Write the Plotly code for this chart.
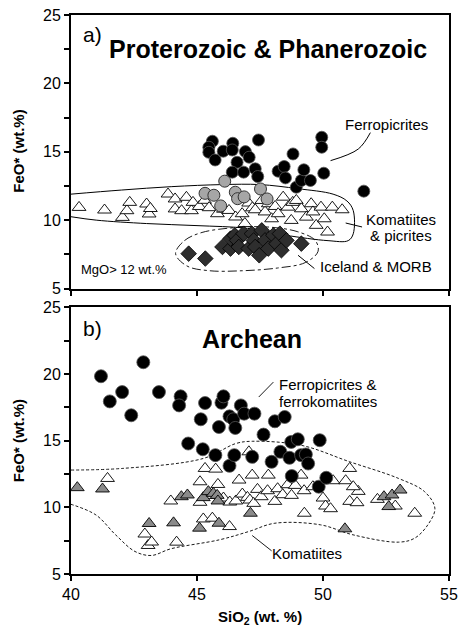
import plotly.graph_objects as go

# ---------------- Panel a: Proterozoic & Phanerozoic ----------------
a_ferro_x = [45.61, 45.47, 45.47, 45.72, 46.04, 46.42, 46.40, 46.59, 46.40, 46.85, 46.92, 47.07,
             47.31, 47.41, 47.44, 48.22, 48.46, 48.51, 48.81, 48.94, 49.14, 49.24, 49.50, 49.95,
             49.95, 50.03, 51.62]
a_ferro_y = [15.77, 15.33, 14.96, 14.40, 15.04, 15.62, 15.13, 14.23, 13.51, 13.51, 15.01, 14.60,
             13.75, 13.19, 15.86, 13.58, 13.92, 13.09, 14.84, 12.41, 12.90, 13.68, 12.90, 16.06,
             15.33, 13.43, 12.12]

a_gray_x = [46.10, 45.32, 45.67, 45.94, 46.52, 46.61, 46.87, 47.52, 47.78]
a_gray_y = [12.85, 11.96, 11.82, 11.04, 12.04, 11.57, 11.70, 12.28, 11.55]

a_kom_x = [40.32, 41.33, 42.04, 42.22, 42.33, 43.00, 43.10, 43.15, 43.85, 44.13, 44.13, 44.39,
           44.58, 44.78, 44.84, 45.09, 45.30, 45.48, 45.81, 46.05, 46.27, 46.53, 46.79, 46.90,
           47.05, 47.20, 47.31, 47.57, 47.70, 47.83, 47.96, 48.10, 48.22, 48.42, 48.61, 48.74,
           48.80, 48.94, 49.14, 49.34, 49.53, 49.60, 49.73, 49.92, 50.05, 50.18, 50.37, 50.76]
a_kom_y = [10.93, 10.74, 10.20, 10.69, 11.30, 11.18, 10.45, 10.85, 11.91, 11.55, 10.82, 10.69,
           11.67, 10.69, 11.30, 11.00, 11.45, 10.91, 10.47, 10.80, 10.71, 10.23, 10.47, 9.75,
           11.25, 10.90, 10.76, 11.44, 10.60, 11.20, 10.10, 11.00, 10.47, 11.68, 10.95, 9.98,
           11.30, 11.44, 10.83, 10.22, 11.20, 10.60, 9.62, 10.95, 10.10, 9.13, 10.95, 10.76]

a_morb_x = [44.67, 45.33, 46.01, 46.33, 46.33, 46.50, 46.59, 46.66, 46.85, 47.05, 47.18, 47.25,
            47.31, 47.47, 47.57, 47.70, 47.83, 48.03, 48.16, 48.29, 48.35, 48.55, 49.14]
a_morb_y = [7.55, 7.19, 8.04, 7.92, 8.65, 8.89, 8.52, 8.04, 9.01, 7.92, 9.01, 8.52,
            8.04, 7.43, 9.25, 8.52, 7.92, 8.89, 8.28, 9.01, 7.80, 8.52, 8.28]

# field outlines, panel a
a_kom_field_x = [40.0, 42.0, 44.0, 46.0, 47.5, 49.0, 50.4, 50.95, 51.2, 51.2, 51.0, 50.2, 48.5,
                 47.0, 45.0, 43.0, 41.0, 40.0]
a_kom_field_y = [11.9, 12.2, 12.45, 12.6, 12.6, 12.3, 11.9, 11.4, 10.7, 9.0, 8.5, 8.5, 8.9,
                 9.4, 9.6, 9.75, 10.0, 10.25]
a_morb_field_x = [44.15, 44.5, 45.2, 46.5, 47.8, 49.0, 49.7, 49.8, 49.3, 48.2, 46.8, 45.5, 44.6, 44.15]
a_morb_field_y = [7.55, 8.5, 9.1, 9.45, 9.5, 9.15, 8.5, 7.7, 6.9, 6.5, 6.3, 6.3, 6.65, 7.55]

# ---------------- Panel b: Archean ----------------
b_ferro_x = [41.19, 41.54, 42.03, 42.39, 42.87, 43.49, 44.35, 44.29, 44.65, 45.15, 45.32, 45.23,
             45.73, 45.87, 45.97, 46.05, 46.29, 46.29, 46.48, 46.44, 46.52, 46.74, 46.87, 47.19,
             47.28, 47.64, 47.96, 48.09, 48.48, 48.31, 48.67, 48.74, 49.00, 48.76, 49.13, 49.32,
             49.41, 49.87, 49.83, 50.13]
b_ferro_y = [19.84, 17.95, 18.65, 16.91, 20.89, 18.65, 18.33, 17.65, 14.79, 16.61, 17.83, 14.36,
             13.92, 16.03, 17.85, 18.33, 16.83, 13.12, 13.92, 16.61, 15.96, 17.65, 17.03, 13.79,
             17.03, 15.46, 13.42, 16.46, 16.78, 14.17, 13.72, 14.91, 15.11, 12.35, 13.92, 13.97,
             13.29, 15.04, 11.55, 12.22]

b_kom_x = [41.45, 42.93, 43.06, 43.20, 43.96, 44.19, 45.12, 45.12, 45.25, 45.32, 45.61, 45.55,
           45.74, 45.83, 45.95, 46.05, 46.29, 46.30, 46.54, 46.67, 46.80, 47.00, 47.06, 47.10,
           47.19, 47.25, 47.40, 47.55, 47.83, 47.80, 48.09, 48.20, 48.40, 48.60, 48.75, 48.90,
           49.13, 49.26, 49.25, 49.60, 50.00, 50.10, 50.30, 50.40, 50.90, 51.06, 51.06, 51.40,
           51.35, 51.20, 52.16, 52.87, 53.64]
b_kom_y = [12.17, 8.00, 7.14, 7.40, 10.48, 7.39, 11.92, 10.38, 9.13, 12.92, 9.19, 10.90,
           12.87, 11.72, 10.55, 10.70, 8.56, 10.40, 10.48, 12.05, 11.00, 10.75, 14.17, 10.55,
           12.42, 10.30, 11.35, 10.80, 12.42, 11.25, 10.45, 11.40, 10.95, 11.70, 10.90, 11.65,
           12.42, 9.56, 11.25, 11.55, 10.70, 10.10, 9.90, 12.00, 12.00, 12.92, 10.45, 11.20,
           10.35, 11.55, 10.60, 10.10, 9.56]

b_gray_x = [40.25, 41.25, 43.10, 44.07, 44.38, 44.62, 45.10, 45.25, 45.45, 45.65, 45.80, 45.87,
            45.83, 47.12, 50.87, 52.42, 52.61, 52.74, 53.06]
b_gray_y = [11.48, 11.38, 8.79, 8.84, 10.80, 10.93, 8.44, 10.73, 11.18, 11.05, 10.90, 8.81,
            10.48, 9.56, 8.39, 10.80, 10.06, 10.93, 11.30]

b_field_x = [40.0, 42.03, 45.25, 46.54, 47.19, 49.13, 51.06, 53.0, 54.03, 54.44, 54.16, 53.64,
             53.0, 51.19, 49.9, 48.09, 47.06, 45.9, 43.96, 43.19, 42.54, 41.77, 40.99, 40.0]
b_field_y = [12.8, 12.92, 13.67, 14.79, 14.96, 14.66, 13.42, 12.17, 11.18, 9.93, 8.69, 7.69,
             7.39, 7.94, 8.69, 8.81, 8.19, 7.57, 6.89, 6.39, 6.69, 7.94, 9.43, 10.23]

x_ticks = [40, 45, 50, 55]
y_ticks = [5, 10, 15, 20, 25]

FONT = "Liberation Sans, Arial, sans-serif"

fig = go.Figure()


def pts(x, y, xa, ya, symbol, fill, size, lw=1.0, lc="black"):
    fig.add_trace(go.Scatter(
        x=x, y=y, xaxis=xa, yaxis=ya, mode="markers", showlegend=False, hoverinfo="skip",
        marker=dict(symbol=symbol, size=size, color=fill, line=dict(color=lc, width=lw)),
    ))


def line(x, y, xa, ya, dash="solid", width=1.0, spline=True):
    fig.add_trace(go.Scatter(
        x=x, y=y, xaxis=xa, yaxis=ya, mode="lines", showlegend=False, hoverinfo="skip",
        line=dict(color="black", width=width, dash=dash,
                  shape="spline" if spline else "linear", smoothing=1.0),
    ))


# panel a
line(a_kom_field_x, a_kom_field_y, "x", "y", "solid", 1.0)
line(a_morb_field_x, a_morb_field_y, "x", "y", "dashdot", 0.9)
pts(a_kom_x, a_kom_y, "x", "y", "triangle-up", "white", 12, 0.9)
pts(a_morb_x, a_morb_y, "x", "y", "diamond", "#2e2e2e", 12, 0.8)
pts(a_gray_x, a_gray_y, "x", "y", "circle", "#a6a6a6", 12, 1.0, "#333333")
pts(a_ferro_x, a_ferro_y, "x", "y", "circle", "black", 12, 0.8, "#555555")
# leader lines, panel a
line([50.3, 51.4, 51.88], [14.35, 15.2, 16.4], "x", "y", "solid", 1.0)
line([50.9, 51.55], [9.79, 9.5], "x", "y", "solid", 1.0, False)
line([49.01, 49.66], [7.43, 6.46], "x", "y", "solid", 1.0, False)

# panel b
line(b_field_x, b_field_y, "x2", "y2", "3px,2px", 0.9)
pts(b_kom_x, b_kom_y, "x2", "y2", "triangle-up", "white", 12, 0.9)
pts(b_gray_x, b_gray_y, "x2", "y2", "triangle-up", "#8a8a8a", 12, 0.9)
pts(b_ferro_x, b_ferro_y, "x2", "y2", "circle", "black", 13, 0.8, "#555555")
line([48.03, 47.45], [19.4, 18.28], "x2", "y2", "solid", 0.9, False)
line([47.96, 47.19], [6.74, 7.89], "x2", "y2", "solid", 0.9, False)

axis_common = dict(
    range=[40, 55], showline=True, linewidth=2, linecolor="black", mirror=True,
    ticks="outside", ticklen=5, tickwidth=1.5, tickcolor="black", tickvals=x_ticks,
    showgrid=False, zeroline=False, tickfont=dict(family=FONT, size=16, color="black"),
)
yaxis_common = dict(
    range=[5, 25], showline=True, linewidth=2, linecolor="black", mirror=True,
    ticks="outside", ticklen=5, tickwidth=1.5, tickcolor="black", tickvals=y_ticks,
    minor=dict(dtick=2.5, ticks="outside", ticklen=5, tickwidth=1.5, tickcolor="black"),
    showgrid=False, zeroline=False, tickfont=dict(family=FONT, size=16, color="black"),
)

fig.update_layout(
    width=465, height=627, paper_bgcolor="white", plot_bgcolor="white",
    margin=dict(l=71, r=7, t=14, b=53),
    xaxis=dict(axis_common, domain=[0, 1], anchor="y", showticklabels=False),
    yaxis=dict(yaxis_common, domain=[0.5107, 1], anchor="x"),
    xaxis2=dict(axis_common, domain=[0, 1], anchor="y2"),
    yaxis2=dict(yaxis_common, domain=[0, 0.4768], anchor="x2"),
)

ann = []


def txt(text, x, y, xr, yr, size, bold=False, xanchor="center"):
    ann.append(dict(text=f"<b>{text}</b>" if bold else text, x=x, y=y, xref=xr, yref=yr,
                    showarrow=False, xanchor=xanchor, yanchor="middle",
                    font=dict(family=FONT, size=size, color="black")))


txt("a)", 40.4, 23.6, "x", "y", 21, xanchor="left")
txt("Proterozoic &amp; Phanerozoic", 47.81, 22.5, "x", "y", 25, bold=True)
txt("Ferropicrites", 52.53, 17.03, "x", "y", 15)
txt("Komatiites", 53.08, 10.05, "x", "y", 15)
txt("&amp; picrites", 53.08, 8.9, "x", "y", 15)
txt("Iceland &amp; MORB", 52.1, 6.58, "x", "y", 15)
txt("MgO&gt; 12 wt.%", 42.11, 6.39, "x", "y", 13)

txt("b)", 40.4, 23.4, "x2", "y2", 21, xanchor="left")
txt("Archean", 47.2, 22.66, "x2", "y2", 25, bold=True)
txt("Ferropicrites &amp;", 50.18, 19.2, "x2", "y2", 15)
txt("ferrokomatiites", 50.18, 17.95, "x2", "y2", 15)
txt("Komatiites", 49.38, 6.57, "x2", "y2", 15)

# axis titles
for yc in (0.757, 0.239):
    ann.append(dict(text="<b>FeO* (wt.%)</b>", x=-0.138, y=yc, xref="paper", yref="paper",
                    showarrow=False, textangle=-90, xanchor="center", yanchor="middle",
                    font=dict(family=FONT, size=15, color="black")))
ann.append(dict(text="<b>SiO<sub>2</sub> (wt. %)</b>", x=0.501, y=-0.0786, xref="paper",
                yref="paper", showarrow=False, xanchor="center", yanchor="middle",
                font=dict(family=FONT, size=15, color="black")))

fig.update_layout(annotations=ann)
fig.write_html("out.html")
